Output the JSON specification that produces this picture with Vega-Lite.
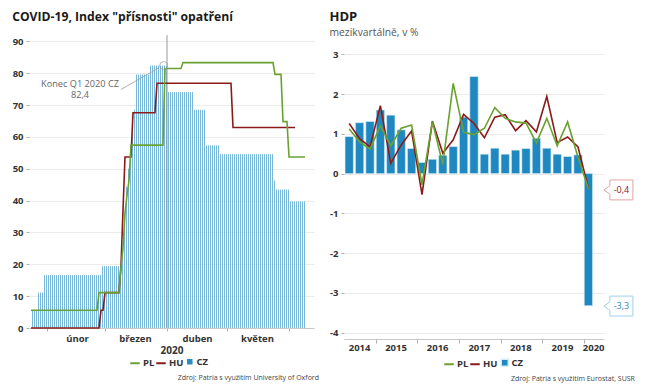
{
"$schema": "https://vega.github.io/schema/vega-lite/v6.json",
"padding": {"left": 12, "top": 10, "right": 5, "bottom": 2},
"background": "white",
"spacing": 10,
"config": {
  "font": "Open Sans",
  "view": {"stroke": null},
  "axis": {"labelFont": "Open Sans", "labelFontWeight": "bold", "labelFontSize": 9.5, "labelColor": "#333333", "domainColor": "#c8c8c8", "tickColor": "#b0b0b0", "tickSize": 3, "labelPadding": 3, "gridColor": "#ebebeb", "titleFont": "Open Sans"},
  "axisY": {"labelOverlap": false},
  "legend": {"labelFont": "Open Sans", "labelFontWeight": "bold", "labelFontSize": 9.5, "labelColor": "#333333"},
  "title": {"font": "Open Sans"}
},
"resolve": {"scale": {"color": "independent", "fill": "independent"}, "legend": {"color": "independent", "fill": "independent"}},
"hconcat": [
{
  "title": {"text": "Zdroj: Patria s využitím University of Oxford", "orient": "bottom", "anchor": "end", "fontSize": 7, "fontWeight": "normal", "color": "#444444", "offset": 5},
  "resolve": {"scale": {"color": "independent", "fill": "independent"}, "legend": {"color": "independent", "fill": "independent"}},
  "vconcat": [
  {
    "title": {"text": "COVID-19, Index \"přísnosti\" opatření", "anchor": "start", "fontSize": 12.2, "fontWeight": "bold", "color": "#1a1a1a", "offset": 11},
    "width": 285,
    "height": 293,
    "data": {"values": [
{"d":"2020-01-24","CZ":5.56,"PL":5.56,"HU":0},
{"d":"2020-01-25","CZ":5.56,"PL":5.56,"HU":0},
{"d":"2020-01-26","CZ":5.56,"PL":5.56,"HU":0},
{"d":"2020-01-27","CZ":11.11,"PL":5.56,"HU":0},
{"d":"2020-01-28","CZ":11.11,"PL":5.56,"HU":0},
{"d":"2020-01-29","CZ":11.11,"PL":5.56,"HU":0},
{"d":"2020-01-30","CZ":16.67,"PL":5.56,"HU":0},
{"d":"2020-01-31","CZ":16.67,"PL":5.56,"HU":0},
{"d":"2020-02-01","CZ":16.67,"PL":5.56,"HU":0},
{"d":"2020-02-02","CZ":16.67,"PL":5.56,"HU":0},
{"d":"2020-02-03","CZ":16.67,"PL":5.56,"HU":0},
{"d":"2020-02-04","CZ":16.67,"PL":5.56,"HU":0},
{"d":"2020-02-05","CZ":16.67,"PL":5.56,"HU":0},
{"d":"2020-02-06","CZ":16.67,"PL":5.56,"HU":0},
{"d":"2020-02-07","CZ":16.67,"PL":5.56,"HU":0},
{"d":"2020-02-08","CZ":16.67,"PL":5.56,"HU":0},
{"d":"2020-02-09","CZ":16.67,"PL":5.56,"HU":0},
{"d":"2020-02-10","CZ":16.67,"PL":5.56,"HU":0},
{"d":"2020-02-11","CZ":16.67,"PL":5.56,"HU":0},
{"d":"2020-02-12","CZ":16.67,"PL":5.56,"HU":0},
{"d":"2020-02-13","CZ":16.67,"PL":5.56,"HU":0},
{"d":"2020-02-14","CZ":16.67,"PL":5.56,"HU":0},
{"d":"2020-02-15","CZ":16.67,"PL":5.56,"HU":0},
{"d":"2020-02-16","CZ":16.67,"PL":5.56,"HU":0},
{"d":"2020-02-17","CZ":16.67,"PL":5.56,"HU":0},
{"d":"2020-02-18","CZ":16.67,"PL":5.56,"HU":0},
{"d":"2020-02-19","CZ":16.67,"PL":5.56,"HU":0},
{"d":"2020-02-20","CZ":16.67,"PL":5.56,"HU":0},
{"d":"2020-02-21","CZ":16.67,"PL":5.56,"HU":0},
{"d":"2020-02-22","CZ":16.67,"PL":5.56,"HU":0},
{"d":"2020-02-23","CZ":16.67,"PL":5.56,"HU":0},
{"d":"2020-02-24","CZ":16.67,"PL":5.56,"HU":0},
{"d":"2020-02-25","CZ":16.67,"PL":5.56,"HU":0},
{"d":"2020-02-26","CZ":16.67,"PL":5.56,"HU":0},
{"d":"2020-02-27","CZ":16.67,"PL":11.11,"HU":0},
{"d":"2020-02-28","CZ":19.44,"PL":11.11,"HU":5.56},
{"d":"2020-02-29","CZ":19.44,"PL":11.11,"HU":5.56},
{"d":"2020-03-01","CZ":19.44,"PL":11.11,"HU":11.11},
{"d":"2020-03-02","CZ":19.44,"PL":11.11,"HU":11.11},
{"d":"2020-03-03","CZ":19.44,"PL":11.11,"HU":11.11},
{"d":"2020-03-04","CZ":19.44,"PL":11.11,"HU":11.11},
{"d":"2020-03-05","CZ":19.44,"PL":11.11,"HU":11.11},
{"d":"2020-03-06","CZ":19.44,"PL":11.11,"HU":11.11},
{"d":"2020-03-07","CZ":19.44,"PL":11.11,"HU":11.11},
{"d":"2020-03-08","CZ":19.44,"PL":11.11,"HU":11.11},
{"d":"2020-03-09","CZ":25,"PL":19.44,"HU":19.44},
{"d":"2020-03-10","CZ":36.11,"PL":25,"HU":37.04},
{"d":"2020-03-11","CZ":44.44,"PL":36.11,"HU":53.7},
{"d":"2020-03-12","CZ":50,"PL":41.67,"HU":53.7},
{"d":"2020-03-13","CZ":57.41,"PL":46.3,"HU":53.7},
{"d":"2020-03-14","CZ":61.11,"PL":57.41,"HU":53.7},
{"d":"2020-03-15","CZ":68.52,"PL":57.41,"HU":67.59},
{"d":"2020-03-16","CZ":79.63,"PL":57.41,"HU":67.59},
{"d":"2020-03-17","CZ":79.63,"PL":57.41,"HU":67.59},
{"d":"2020-03-18","CZ":79.63,"PL":57.41,"HU":67.59},
{"d":"2020-03-19","CZ":79.63,"PL":57.41,"HU":67.59},
{"d":"2020-03-20","CZ":79.63,"PL":57.41,"HU":67.59},
{"d":"2020-03-21","CZ":79.63,"PL":57.41,"HU":67.59},
{"d":"2020-03-22","CZ":79.63,"PL":57.41,"HU":67.59},
{"d":"2020-03-23","CZ":82.41,"PL":57.41,"HU":67.59},
{"d":"2020-03-24","CZ":82.41,"PL":57.41,"HU":67.59},
{"d":"2020-03-25","CZ":82.41,"PL":57.41,"HU":67.59},
{"d":"2020-03-26","CZ":82.41,"PL":57.41,"HU":67.59},
{"d":"2020-03-27","CZ":82.41,"PL":57.41,"HU":76.85},
{"d":"2020-03-28","CZ":82.41,"PL":57.41,"HU":76.85},
{"d":"2020-03-29","CZ":82.41,"PL":57.41,"HU":76.85},
{"d":"2020-03-30","CZ":82.41,"PL":57.41,"HU":76.85},
{"d":"2020-03-31","CZ":82.41,"PL":81.48,"HU":76.85},
{"d":"2020-04-01","CZ":74.07,"PL":81.48,"HU":76.85},
{"d":"2020-04-02","CZ":74.07,"PL":81.48,"HU":76.85},
{"d":"2020-04-03","CZ":74.07,"PL":81.48,"HU":76.85},
{"d":"2020-04-04","CZ":74.07,"PL":81.48,"HU":76.85},
{"d":"2020-04-05","CZ":74.07,"PL":81.48,"HU":76.85},
{"d":"2020-04-06","CZ":74.07,"PL":81.48,"HU":76.85},
{"d":"2020-04-07","CZ":74.07,"PL":81.48,"HU":76.85},
{"d":"2020-04-08","CZ":74.07,"PL":81.48,"HU":76.85},
{"d":"2020-04-09","CZ":74.07,"PL":83.33,"HU":76.85},
{"d":"2020-04-10","CZ":74.07,"PL":83.33,"HU":76.85},
{"d":"2020-04-11","CZ":74.07,"PL":83.33,"HU":76.85},
{"d":"2020-04-12","CZ":74.07,"PL":83.33,"HU":76.85},
{"d":"2020-04-13","CZ":74.07,"PL":83.33,"HU":76.85},
{"d":"2020-04-14","CZ":68.52,"PL":83.33,"HU":76.85},
{"d":"2020-04-15","CZ":68.52,"PL":83.33,"HU":76.85},
{"d":"2020-04-16","CZ":68.52,"PL":83.33,"HU":76.85},
{"d":"2020-04-17","CZ":68.52,"PL":83.33,"HU":76.85},
{"d":"2020-04-18","CZ":68.52,"PL":83.33,"HU":76.85},
{"d":"2020-04-19","CZ":68.52,"PL":83.33,"HU":76.85},
{"d":"2020-04-20","CZ":57.41,"PL":83.33,"HU":76.85},
{"d":"2020-04-21","CZ":57.41,"PL":83.33,"HU":76.85},
{"d":"2020-04-22","CZ":57.41,"PL":83.33,"HU":76.85},
{"d":"2020-04-23","CZ":57.41,"PL":83.33,"HU":76.85},
{"d":"2020-04-24","CZ":57.41,"PL":83.33,"HU":76.85},
{"d":"2020-04-25","CZ":57.41,"PL":83.33,"HU":76.85},
{"d":"2020-04-26","CZ":57.41,"PL":83.33,"HU":76.85},
{"d":"2020-04-27","CZ":54.63,"PL":83.33,"HU":76.85},
{"d":"2020-04-28","CZ":54.63,"PL":83.33,"HU":76.85},
{"d":"2020-04-29","CZ":54.63,"PL":83.33,"HU":76.85},
{"d":"2020-04-30","CZ":54.63,"PL":83.33,"HU":76.85},
{"d":"2020-05-01","CZ":54.63,"PL":83.33,"HU":76.85},
{"d":"2020-05-02","CZ":54.63,"PL":83.33,"HU":76.85},
{"d":"2020-05-03","CZ":54.63,"PL":83.33,"HU":76.85},
{"d":"2020-05-04","CZ":54.63,"PL":83.33,"HU":62.96},
{"d":"2020-05-05","CZ":54.63,"PL":83.33,"HU":62.96},
{"d":"2020-05-06","CZ":54.63,"PL":83.33,"HU":62.96},
{"d":"2020-05-07","CZ":54.63,"PL":83.33,"HU":62.96},
{"d":"2020-05-08","CZ":54.63,"PL":83.33,"HU":62.96},
{"d":"2020-05-09","CZ":54.63,"PL":83.33,"HU":62.96},
{"d":"2020-05-10","CZ":54.63,"PL":83.33,"HU":62.96},
{"d":"2020-05-11","CZ":54.63,"PL":83.33,"HU":62.96},
{"d":"2020-05-12","CZ":54.63,"PL":83.33,"HU":62.96},
{"d":"2020-05-13","CZ":54.63,"PL":83.33,"HU":62.96},
{"d":"2020-05-14","CZ":54.63,"PL":83.33,"HU":62.96},
{"d":"2020-05-15","CZ":54.63,"PL":83.33,"HU":62.96},
{"d":"2020-05-16","CZ":54.63,"PL":83.33,"HU":62.96},
{"d":"2020-05-17","CZ":54.63,"PL":83.33,"HU":62.96},
{"d":"2020-05-18","CZ":54.63,"PL":83.33,"HU":62.96},
{"d":"2020-05-19","CZ":54.63,"PL":83.33,"HU":62.96},
{"d":"2020-05-20","CZ":54.63,"PL":83.33,"HU":62.96},
{"d":"2020-05-21","CZ":54.63,"PL":83.33,"HU":62.96},
{"d":"2020-05-22","CZ":54.63,"PL":83.33,"HU":62.96},
{"d":"2020-05-23","CZ":54.63,"PL":83.33,"HU":62.96},
{"d":"2020-05-24","CZ":46.3,"PL":83.33,"HU":62.96},
{"d":"2020-05-25","CZ":43.52,"PL":79.63,"HU":62.96},
{"d":"2020-05-26","CZ":43.52,"PL":79.63,"HU":62.96},
{"d":"2020-05-27","CZ":43.52,"PL":79.63,"HU":62.96},
{"d":"2020-05-28","CZ":43.52,"PL":79.63,"HU":62.96},
{"d":"2020-05-29","CZ":43.52,"PL":64.81,"HU":62.96},
{"d":"2020-05-30","CZ":43.52,"PL":64.81,"HU":62.96},
{"d":"2020-05-31","CZ":43.52,"PL":64.81,"HU":62.96},
{"d":"2020-06-01","CZ":39.81,"PL":53.7,"HU":62.96},
{"d":"2020-06-02","CZ":39.81,"PL":53.7,"HU":62.96},
{"d":"2020-06-03","CZ":39.81,"PL":53.7,"HU":62.96},
{"d":"2020-06-04","CZ":39.81,"PL":53.7,"HU":62.96},
{"d":"2020-06-05","CZ":39.81,"PL":53.7,"HU":null},
{"d":"2020-06-06","CZ":39.81,"PL":53.7,"HU":null},
{"d":"2020-06-07","CZ":39.81,"PL":53.7,"HU":null},
{"d":"2020-06-08","CZ":39.81,"PL":53.7,"HU":null},
{"d":"2020-06-09","CZ":null,"PL":53.7,"HU":null}
    ]},
    "layer": [
      {
        "mark": {"type": "bar", "fillOpacity": 0.8, "stroke": "#ffffff", "strokeWidth": 0.25},
        "encoding": {
          "x": {"field": "d", "type": "temporal", "timeUnit": "utcyearmonthdate",
                "scale": {"type": "utc", "domain": [{"year": 2020, "month": 1, "date": 23, "utc": true}, {"year": 2020, "month": 6, "date": 13, "hours": 12, "utc": true}]},
                "axis": {"title": "2020", "titleFontWeight": "bold", "titleFontSize": 10, "titleColor": "#333333", "titlePadding": 3, "grid": false,
                         "tickCount": {"interval": "month", "step": 1}, "labelOffset": 30, "labelFlush": false, "labelOverlap": false, "labelPadding": 2,
                         "labelExpr": "['leden','únor','březen','duben','květen',''][utcmonth(datum.value)]"}},
          "y": {"field": "CZ", "type": "quantitative", "scale": {"domain": [0, 92], "nice": false},
                "axis": {"title": null, "values": [0,10,20,30,40,50,60,70,80,90], "tickCount": 10, "labelOverlap": false, "domain": false, "grid": true}},
          "fill": {"datum": "CZ", "type": "nominal", "scale": {"domain": ["CZ"], "range": ["#2a8cc0"]},
                   "legend": {"orient": "none", "legendX": 156, "legendY": 322, "direction": "horizontal", "title": null, "labelOffset": 2, "symbolType": "square", "symbolSize": 50}}
        }
      },
      {
        "data": {"values": [{}]},
        "mark": {"type": "rule", "color": "#9a9a9a", "strokeWidth": 1},
        "encoding": {"x": {"datum": {"year": 2020, "month": 4, "date": 1, "utc": true}, "type": "temporal"}}
      },
      {
        "transform": [{"fold": ["HU", "PL"], "as": ["country", "value"]}],
        "mark": {"type": "line", "strokeWidth": 1.6},
        "encoding": {
          "x": {"field": "d", "type": "temporal", "timeUnit": "utcyearmonthdate"},
          "y": {"field": "value", "type": "quantitative", "axis": {"title": null, "values": [0,10,20,30,40,50,60,70,80,90], "tickCount": 10, "labelOverlap": false, "domain": false, "grid": true}},
          "color": {"field": "country", "type": "nominal",
                    "scale": {"domain": ["PL", "HU"], "range": ["#6aa232", "#8c1a1a"]},
                    "legend": {"orient": "none", "legendX": 100, "legendY": 322, "direction": "horizontal", "title": null, "columnPadding": -12, "labelOffset": 2, "symbolStrokeWidth": 2, "symbolSize": 90}}
        }
      },
      {
        "data": {"values": [{}]},
        "mark": {"type": "rule", "color": "#999999", "strokeWidth": 0.8},
        "encoding": {
          "x": {"datum": {"year": 2020, "month": 3, "date": 9, "utc": true}, "type": "temporal"},
          "y": {"datum": 74.9, "axis": {"title": null, "values": [0,10,20,30,40,50,60,70,80,90], "tickCount": 10, "labelOverlap": false, "domain": false, "grid": true}},
          "x2": {"datum": {"year": 2020, "month": 3, "date": 27, "hours": 16, "utc": true}},
          "y2": {"datum": 81.6}
        }
      },
      {
        "data": {"values": [{}]},
        "mark": {"type": "point", "filled": false, "color": "#999999", "size": 64, "strokeWidth": 1},
        "encoding": {
          "x": {"datum": {"year": 2020, "month": 3, "date": 30, "hours": 8, "utc": true}, "type": "temporal"},
          "y": {"datum": 82.41, "axis": {"title": null, "values": [0,10,20,30,40,50,60,70,80,90], "tickCount": 10, "labelOverlap": false, "domain": false, "grid": true}}
        }
      },
      {
        "data": {"values": [{}]},
        "mark": {"type": "text", "lineBreak": "\n", "fontSize": 9.2, "color": "#666666", "align": "center", "baseline": "middle", "lineHeight": 11},
        "encoding": {
          "x": {"datum": {"year": 2020, "month": 2, "date": 17, "hours": 12, "utc": true}, "type": "temporal"},
          "y": {"datum": 76.6, "axis": {"title": null, "values": [0,10,20,30,40,50,60,70,80,90], "tickCount": 10, "labelOverlap": false, "domain": false, "grid": true}},
          "text": {"value": "Konec Q1 2020 CZ\n82,4"}
        }
      }
    ]
  }
  ]
},
{
  "title": {"text": "Zdroj: Patria s využitím Eurostat, SUSR", "orient": "bottom", "anchor": "end", "fontSize": 7, "fontWeight": "normal", "color": "#444444", "offset": 5},
  "resolve": {"scale": {"color": "independent", "fill": "independent"}, "legend": {"color": "independent", "fill": "independent"}},
  "vconcat": [
  {
    "title": {"text": "HDP", "subtitle": "mezikvartálně, v %", "anchor": "start", "fontSize": 13, "fontWeight": "bold", "color": "#1a1a1a", "subtitleFont": "Open Sans", "subtitleFontSize": 10.3, "subtitleColor": "#555555", "subtitlePadding": 4, "offset": -3},
    "width": 260,
    "height": 304,
    "data": {"values": [
{"q":"2014Q2","CZ":0.93,"PL":1.12,"HU":1.26},
{"q":"2014Q3","CZ":1.28,"PL":0.80,"HU":0.88},
{"q":"2014Q4","CZ":1.31,"PL":0.62,"HU":0.67},
{"q":"2015Q1","CZ":1.60,"PL":1.20,"HU":1.71},
{"q":"2015Q2","CZ":1.47,"PL":0.70,"HU":0.26},
{"q":"2015Q3","CZ":1.10,"PL":1.14,"HU":0.72},
{"q":"2015Q4","CZ":0.63,"PL":1.22,"HU":1.07},
{"q":"2016Q1","CZ":0.28,"PL":-0.28,"HU":-0.53},
{"q":"2016Q2","CZ":0.36,"PL":1.31,"HU":1.32},
{"q":"2016Q3","CZ":0.46,"PL":0.23,"HU":0.51},
{"q":"2016Q4","CZ":0.68,"PL":2.27,"HU":0.85},
{"q":"2017Q1","CZ":1.42,"PL":1.04,"HU":1.49},
{"q":"2017Q2","CZ":2.44,"PL":0.98,"HU":1.26},
{"q":"2017Q3","CZ":0.49,"PL":1.14,"HU":0.90},
{"q":"2017Q4","CZ":0.64,"PL":1.66,"HU":1.42},
{"q":"2018Q1","CZ":0.49,"PL":1.39,"HU":1.48},
{"q":"2018Q2","CZ":0.59,"PL":1.30,"HU":1.08},
{"q":"2018Q3","CZ":0.63,"PL":1.27,"HU":1.33},
{"q":"2018Q4","CZ":0.89,"PL":0.77,"HU":1.05},
{"q":"2019Q1","CZ":0.64,"PL":1.39,"HU":1.94},
{"q":"2019Q2","CZ":0.49,"PL":0.70,"HU":0.78},
{"q":"2019Q3","CZ":0.43,"PL":1.30,"HU":0.92},
{"q":"2019Q4","CZ":0.47,"PL":0.41,"HU":0.67},
{"q":"2020Q1","CZ":-3.32,"PL":-0.38,"HU":-0.37}
    ]},
    "layer": [
      {
        "mark": {"type": "bar", "stroke": "#d6ecf7", "strokeWidth": 0.6},
        "encoding": {
          "x": {"field": "q", "type": "ordinal",
                "scale": {"domain": ["2014Q2","2014Q3","2014Q4","2015Q1","2015Q2","2015Q3","2015Q4","2016Q1","2016Q2","2016Q3","2016Q4","2017Q1","2017Q2","2017Q3","2017Q4","2018Q1","2018Q2","2018Q3","2018Q4","2019Q1","2019Q2","2019Q3","2019Q4","2020Q1","2020Q2"], "paddingInner": 0.2, "paddingOuter": 0.1},
                "axis": {"title": null, "bandPosition": 0, "values": ["2015Q1","2016Q1","2017Q1","2018Q1","2019Q1","2020Q1"], "labels": false, "grid": false, "tickSize": 4}},
          "y": {"field": "CZ", "type": "quantitative", "scale": {"domain": [-4.158, 3.485], "nice": false},
                "axis": {"title": null, "values": [-4,-3,-2,-1,0,1,2,3], "tickCount": 8, "labelOverlap": false, "domain": false, "grid": true, "labelExpr": "datum.value + ''"}},
          "fill": {"datum": "CZ", "type": "nominal", "scale": {"domain": ["CZ"], "range": ["#1f88c0"]},
                   "legend": {"orient": "none", "legendX": 156, "legendY": 323, "direction": "horizontal", "title": null, "labelOffset": 2, "symbolType": "square", "symbolSize": 50}}
        }
      },
      {
        "transform": [{"fold": ["HU", "PL"], "as": ["country", "value"]}],
        "mark": {"type": "line", "strokeWidth": 1.6},
        "encoding": {
          "x": {"field": "q", "type": "ordinal"},
          "y": {"field": "value", "type": "quantitative", "axis": {"title": null, "values": [-4,-3,-2,-1,0,1,2,3], "tickCount": 8, "labelOverlap": false, "domain": false, "grid": true, "labelExpr": "datum.value + ''"}},
          "color": {"field": "country", "type": "nominal",
                    "scale": {"domain": ["PL", "HU"], "range": ["#6aa232", "#8c1a1a"]},
                    "legend": {"orient": "none", "legendX": 99, "legendY": 323, "direction": "horizontal", "title": null, "columnPadding": -12, "labelOffset": 2, "symbolStrokeWidth": 2, "symbolSize": 90}}
        }
      },
      {
        "data": {"values": [
          {"q": "2015Q3", "year": "2015"},
          {"q": "2016Q3", "year": "2016"},
          {"q": "2017Q3", "year": "2017"},
          {"q": "2018Q3", "year": "2018"},
          {"q": "2019Q3", "year": "2019"},
          {"q": "2020Q2", "year": "2020"}
        ]},
        "mark": {"type": "text", "fontSize": 9.5, "fontWeight": "bold", "color": "#333333", "align": "center", "baseline": "top", "dy": 4, "dx": -1},
        "encoding": {"x": {"field": "q", "type": "ordinal", "bandPosition": 0}, "y": {"datum": -4.158, "axis": {"title": null, "values": [-4,-3,-2,-1,0,1,2,3], "tickCount": 8, "labelOverlap": false, "domain": false, "grid": true, "labelExpr": "datum.value + ''"}}, "text": {"field": "year"}}
      },
      {
        "data": {"values": [{}]},
        "mark": {"type": "text", "fontSize": 9.5, "fontWeight": "bold", "color": "#333333", "align": "center", "baseline": "top", "dy": 4},
        "encoding": {"x": {"datum": "2014Q3", "type": "ordinal"}, "y": {"datum": -4.158, "axis": {"title": null, "values": [-4,-3,-2,-1,0,1,2,3], "tickCount": 8, "labelOverlap": false, "domain": false, "grid": true, "labelExpr": "datum.value + ''"}}, "text": {"value": "2014"}}
      },
      {
        "data": {"values": [{}]},
        "mark": {"type": "point", "shape": "M 1.79 -0.83 L 3.71 -0.83 L 3.71 0.83 L 1.79 0.83 L 1.79 0.35 L 1.29 0 L 1.79 -0.35 Z", "size": 576, "filled": true, "fill": "#ffffff", "stroke": "#e3a3a3", "strokeWidth": 1, "opacity": 1},
        "encoding": {"x": {"datum": "2020Q1", "type": "ordinal"}, "y": {"datum": -0.41, "axis": {"title": null, "values": [-4,-3,-2,-1,0,1,2,3], "tickCount": 8, "labelOverlap": false, "domain": false, "grid": true, "labelExpr": "datum.value + ''"}}}
      },
      {
        "data": {"values": [{}]},
        "mark": {"type": "text", "fontSize": 9, "color": "#8c1a1a", "dx": 33, "align": "center", "baseline": "middle"},
        "encoding": {"x": {"datum": "2020Q1", "type": "ordinal"}, "y": {"datum": -0.41, "axis": {"title": null, "values": [-4,-3,-2,-1,0,1,2,3], "tickCount": 8, "labelOverlap": false, "domain": false, "grid": true, "labelExpr": "datum.value + ''"}}, "text": {"value": "-0,4"}}
      },
      {
        "data": {"values": [{}]},
        "mark": {"type": "point", "shape": "M 1.79 -0.83 L 3.71 -0.83 L 3.71 0.83 L 1.79 0.83 L 1.79 0.35 L 1.29 0 L 1.79 -0.35 Z", "size": 576, "filled": true, "fill": "#ffffff", "stroke": "#9fd0ea", "strokeWidth": 1, "opacity": 1},
        "encoding": {"x": {"datum": "2020Q1", "type": "ordinal"}, "y": {"datum": -3.33, "axis": {"title": null, "values": [-4,-3,-2,-1,0,1,2,3], "tickCount": 8, "labelOverlap": false, "domain": false, "grid": true, "labelExpr": "datum.value + ''"}}}
      },
      {
        "data": {"values": [{}]},
        "mark": {"type": "text", "fontSize": 9, "color": "#2a8cc0", "dx": 33, "align": "center", "baseline": "middle"},
        "encoding": {"x": {"datum": "2020Q1", "type": "ordinal"}, "y": {"datum": -3.33, "axis": {"title": null, "values": [-4,-3,-2,-1,0,1,2,3], "tickCount": 8, "labelOverlap": false, "domain": false, "grid": true, "labelExpr": "datum.value + ''"}}, "text": {"value": "-3,3"}}
      }
    ]
  }
  ]
}
]
}
